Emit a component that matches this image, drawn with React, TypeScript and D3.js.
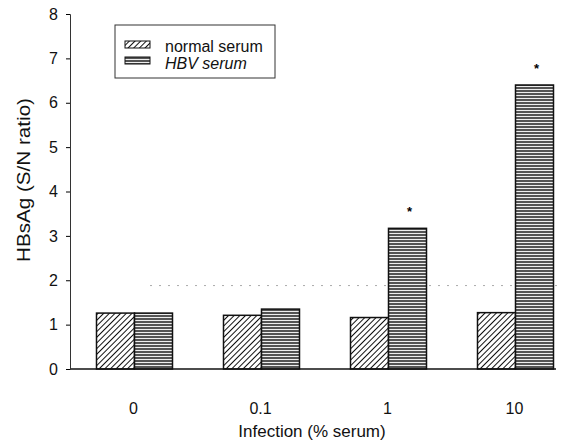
import React, { useEffect, useRef } from "react";
import * as d3 from "d3";

const categories = ["0", "0.1", "1", "10"];
const normalSerum = [1.26, 1.21, 1.16, 1.27];
const hbvSerum = [1.26, 1.35, 3.17, 6.4];
const significant = [false, false, true, true];
const yTicks = [0, 1, 2, 3, 4, 5, 6, 7, 8];
const cutoff = 1.88;

export default function App() {
  const ref = useRef<SVGSVGElement>(null);

  useEffect(() => {
    const svg = d3.select(ref.current);
    svg.selectAll("*").remove();
    const font = "Liberation Sans, Arial, sans-serif";

    const x = d3.scaleBand().domain(categories).range([70, 578]);
    const sub = d3.scaleBand().domain(["normal", "hbv"]).range([-37, 39]);
    const y = d3.scaleLinear().domain([0, 8]).range([369, 14]);

    const defs = svg.append("defs");
    const diag = defs.append("pattern").attr("id", "diag").attr("patternUnits", "userSpaceOnUse")
      .attr("width", 4).attr("height", 4).attr("patternTransform", "rotate(45)");
    diag.append("rect").attr("width", 4).attr("height", 4).attr("fill", "white");
    diag.append("line").attr("x1", 0).attr("y1", 0).attr("x2", 0).attr("y2", 4)
      .attr("stroke", "#111").attr("stroke-width", 2);
    const horiz = defs.append("pattern").attr("id", "horiz").attr("patternUnits", "userSpaceOnUse")
      .attr("width", 6).attr("height", 3);
    horiz.append("rect").attr("width", 6).attr("height", 3).attr("fill", "#eee");
    horiz.append("line").attr("x1", 0).attr("y1", 1).attr("x2", 6).attr("y2", 1)
      .attr("stroke", "#111").attr("stroke-width", 1.4);

    // cut-off line
    svg.append("line").attr("x1", 150).attr("x2", 560).attr("y1", y(cutoff)).attr("y2", y(cutoff))
      .attr("stroke", "#aaa").attr("stroke-width", 1).attr("stroke-dasharray", "2,7");

    const g = svg.selectAll(".grp").data(categories).join("g").attr("class", "grp")
      .attr("transform", (d) => `translate(${(x(d) as number) + x.bandwidth() / 2},0)`);

    g.append("rect").attr("x", sub("normal") as number).attr("width", sub.bandwidth())
      .attr("y", (_, i) => y(normalSerum[i])).attr("height", (_, i) => y(0) - y(normalSerum[i]))
      .attr("fill", "url(#diag)").attr("stroke", "#111").attr("stroke-width", 1.5);
    g.append("rect").attr("x", sub("hbv") as number).attr("width", sub.bandwidth())
      .attr("y", (_, i) => y(hbvSerum[i])).attr("height", (_, i) => y(0) - y(hbvSerum[i]))
      .attr("fill", "url(#horiz)").attr("stroke", "#111").attr("stroke-width", 1.5);
    g.filter((_, i) => significant[i]).append("text")
      .attr("x", (sub("hbv") as number) + sub.bandwidth() / 2 + 2)
      .attr("y", (d) => y(hbvSerum[categories.indexOf(d)]) - 12)
      .attr("text-anchor", "middle").attr("font-family", font).attr("font-size", 13)
      .attr("font-weight", "bold").text("*");

    // axes
    svg.append("line").attr("x1", 70).attr("x2", 556).attr("y1", y(0)).attr("y2", y(0))
      .attr("stroke", "#111").attr("stroke-width", 1.3);
    const ya = svg.append("g").attr("transform", "translate(70,0)")
      .call(d3.axisLeft(y).tickValues(yTicks).tickSize(4).tickPadding(8).tickFormat(d3.format("d")));
    ya.select(".domain").attr("stroke", "#333");
    ya.selectAll("text").attr("font-family", font).attr("font-size", 16).attr("fill", "#111");

    svg.append("g").selectAll("text").data(categories).join("text")
      .attr("x", (d) => (x(d) as number) + x.bandwidth() / 2).attr("y", 414)
      .attr("text-anchor", "middle").attr("font-family", font).attr("font-size", 16).attr("fill", "#111")
      .text((d) => d);

    svg.append("text").attr("x", 312).attr("y", 437).attr("text-anchor", "middle")
      .attr("font-family", font).attr("font-size", 17).attr("fill", "#111").text("Infection (% serum)");
    svg.append("text").attr("transform", "translate(30,180) rotate(-90)").attr("text-anchor", "middle")
      .attr("font-family", font).attr("font-size", 18).attr("fill", "#111")
      .attr("textLength", 164).attr("lengthAdjust", "spacingAndGlyphs").text("HBsAg (S/N ratio)");

    // legend
    const lg = svg.append("g");
    lg.append("rect").attr("x", 115).attr("y", 25).attr("width", 160).attr("height", 53)
      .attr("fill", "white").attr("stroke", "#333").attr("stroke-width", 1);
    lg.append("rect").attr("x", 125).attr("y", 41).attr("width", 25).attr("height", 7)
      .attr("fill", "url(#diag)").attr("stroke", "#111");
    lg.append("rect").attr("x", 125).attr("y", 57).attr("width", 25).attr("height", 7)
      .attr("fill", "url(#horiz)").attr("stroke", "#111");
    lg.append("text").attr("x", 165).attr("y", 52).attr("font-family", font).attr("font-size", 16)
      .attr("fill", "#111").text("normal serum");
    lg.append("text").attr("x", 165).attr("y", 69).attr("font-family", font).attr("font-size", 16)
      .attr("font-style", "italic").attr("fill", "#111").text("HBV serum");
  }, []);

  return (
    <svg ref={ref} width={576} height={444}
      style={{ position: "absolute", left: 0, top: 0, background: "white" }} />
  );
}
